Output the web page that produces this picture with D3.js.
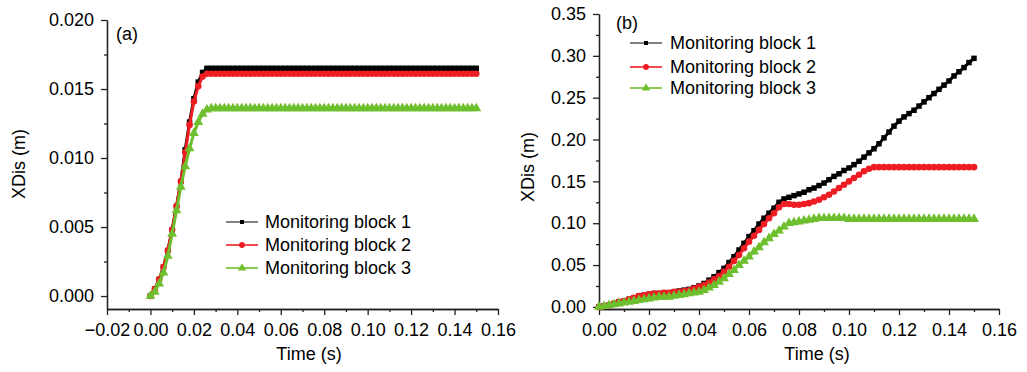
<!DOCTYPE html>
<html><head><meta charset="utf-8">
<script src="https://cdn.jsdelivr.net/npm/d3@7"></script>
<style>
body{margin:0;background:#fff}
svg{display:block}
text{font-family:"Liberation Sans",Arial,sans-serif;fill:#000}
</style>
</head><body>
<svg id="c" width="1027" height="372"></svg>
<script>
// ---------- DATA ----------
const seriesNames = ["Monitoring block 1","Monitoring block 2","Monitoring block 3"];
const seriesColors = ["#000000","#ee1d23","#6ebf2d"];

const timeS = [
0.000,0.002,0.004,0.006,0.008,0.010,0.012,0.014,0.016,0.018,
0.020,0.022,0.024,0.026,0.028,0.030,0.032,0.034,0.036,0.038,
0.040,0.042,0.044,0.046,0.048,0.050,0.052,0.054,0.056,0.058,
0.060,0.062,0.064,0.066,0.068,0.070,0.072,0.074,0.076,0.078,
0.080,0.082,0.084,0.086,0.088,0.090,0.092,0.094,0.096,0.098,
0.100,0.102,0.104,0.106,0.108,0.110,0.112,0.114,0.116,0.118,
0.120,0.122,0.124,0.126,0.128,0.130,0.132,0.134,0.136,0.138,
0.140,0.142,0.144,0.146,0.148,0.150];

// panel (a)
const a_block1 = [
0,0.0005,0.0012,0.0021,0.0033,0.0048,0.0065,0.0083,0.0106,0.0126,
0.0143,0.0155,0.0162,0.0165,0.0165,0.0165,0.0165,0.0165,0.0165,0.0165,
0.0165,0.0165,0.0165,0.0165,0.0165,0.0165,0.0165,0.0165,0.0165,0.0165,
0.0165,0.0165,0.0165,0.0165,0.0165,0.0165,0.0165,0.0165,0.0165,0.0165,
0.0165,0.0165,0.0165,0.0165,0.0165,0.0165,0.0165,0.0165,0.0165,0.0165,
0.0165,0.0165,0.0165,0.0165,0.0165,0.0165,0.0165,0.0165,0.0165,0.0165,
0.0165,0.0165,0.0165,0.0165,0.0165,0.0165,0.0165,0.0165,0.0165,0.0165,
0.0165,0.0165,0.0165,0.0165,0.0165,0.0165];
const a_block2 = [
0,0.0005,0.0012,0.0021,0.0033,0.0048,0.0065,0.0083,0.0104,0.0124,
0.0141,0.0152,0.0159,0.0161,0.0161,0.0161,0.0161,0.0161,0.0161,0.0161,
0.0161,0.0161,0.0161,0.0161,0.0161,0.0161,0.0161,0.0161,0.0161,0.0161,
0.0161,0.0161,0.0161,0.0161,0.0161,0.0161,0.0161,0.0161,0.0161,0.0161,
0.0161,0.0161,0.0161,0.0161,0.0161,0.0161,0.0161,0.0161,0.0161,0.0161,
0.0161,0.0161,0.0161,0.0161,0.0161,0.0161,0.0161,0.0161,0.0161,0.0161,
0.0161,0.0161,0.0161,0.0161,0.0161,0.0161,0.0161,0.0161,0.0161,0.0161,
0.0161,0.0161,0.0161,0.0161,0.0161,0.0161];
const a_block3 = [
0,0.0003,0.0009,0.0017,0.0029,0.0045,0.0062,0.0079,0.0094,0.0107,
0.0118,0.0126,0.0132,0.0135,0.0136,0.0136,0.0136,0.0136,0.0136,0.0136,
0.0136,0.0136,0.0136,0.0136,0.0136,0.0136,0.0136,0.0136,0.0136,0.0136,
0.0136,0.0136,0.0136,0.0136,0.0136,0.0136,0.0136,0.0136,0.0136,0.0136,
0.0136,0.0136,0.0136,0.0136,0.0136,0.0136,0.0136,0.0136,0.0136,0.0136,
0.0136,0.0136,0.0136,0.0136,0.0136,0.0136,0.0136,0.0136,0.0136,0.0136,
0.0136,0.0136,0.0136,0.0136,0.0136,0.0136,0.0136,0.0136,0.0136,0.0136,
0.0136,0.0136,0.0136,0.0136,0.0136,0.0136];

// panel (b)
const b_block1 = [
0.000,0.001,0.002,0.004,0.006,0.007,0.009,0.011,0.013,0.014,
0.015,0.016,0.016,0.017,0.017,0.018,0.019,0.020,0.021,0.023,
0.025,0.028,0.032,0.036,0.041,0.046,0.053,0.060,0.068,0.076,
0.084,0.091,0.099,0.106,0.112,0.118,0.125,0.129,0.131,0.133,
0.135,0.137,0.140,0.142,0.145,0.148,0.152,0.156,0.159,0.163,
0.166,0.170,0.174,0.179,0.184,0.189,0.195,0.202,0.209,0.216,
0.222,0.227,0.231,0.235,0.240,0.245,0.250,0.255,0.260,0.265,
0.270,0.276,0.281,0.286,0.292,0.297];
const b_block2 = [
0.000,0.001,0.002,0.004,0.006,0.007,0.009,0.011,0.013,0.014,
0.015,0.016,0.016,0.017,0.017,0.018,0.018,0.019,0.020,0.022,
0.024,0.026,0.029,0.033,0.037,0.042,0.048,0.055,0.062,0.070,
0.078,0.085,0.092,0.099,0.106,0.112,0.119,0.123,0.123,0.122,
0.122,0.123,0.124,0.126,0.128,0.131,0.134,0.138,0.142,0.146,
0.150,0.154,0.158,0.162,0.165,0.167,0.167,0.167,0.167,0.167,
0.167,0.167,0.167,0.167,0.167,0.167,0.167,0.167,0.167,0.167,
0.167,0.167,0.167,0.167,0.167,0.167];
const b_block3 = [
0.000,0.001,0.002,0.003,0.004,0.005,0.006,0.007,0.008,0.009,
0.010,0.011,0.012,0.012,0.012,0.013,0.014,0.015,0.016,0.017,
0.018,0.020,0.023,0.026,0.030,0.034,0.039,0.044,0.050,0.055,
0.060,0.066,0.071,0.077,0.082,0.087,0.091,0.096,0.100,0.101,
0.102,0.103,0.104,0.105,0.106,0.106,0.106,0.106,0.106,0.106,
0.105,0.105,0.105,0.105,0.105,0.105,0.105,0.105,0.105,0.105,
0.105,0.105,0.105,0.105,0.105,0.105,0.105,0.105,0.105,0.105,
0.105,0.105,0.105,0.105,0.105,0.105];

// ticks
const a_xTicks = [-0.02,0,0.02,0.04,0.06,0.08,0.10,0.12,0.14,0.16];
const a_xTickLabels = ["\u22120.02","0.00","0.02","0.04","0.06","0.08","0.10","0.12","0.14","0.16"];
const a_xMinor = [-0.01,0.01,0.03,0.05,0.07,0.09,0.11,0.13,0.15];
const a_yTicks = [0,0.005,0.010,0.015,0.020];
const a_yTickLabels = ["0.000","0.005","0.010","0.015","0.020"];
const a_yMinor = [0.0025,0.0075,0.0125,0.0175];

const b_xTicks = [0,0.02,0.04,0.06,0.08,0.10,0.12,0.14,0.16];
const b_xTickLabels = ["0.00","0.02","0.04","0.06","0.08","0.10","0.12","0.14","0.16"];
const b_xMinor = [0.01,0.03,0.05,0.07,0.09,0.11,0.13,0.15];
const b_yTicks = [0,0.05,0.10,0.15,0.20,0.25,0.30,0.35];
const b_yTickLabels = ["0.00","0.05","0.10","0.15","0.20","0.25","0.30","0.35"];
const b_yMinor = [0.025,0.075,0.125,0.175,0.225,0.275,0.325];

// ---------- DRAW ----------
const svg = d3.select('#c');
const symbols = [d3.symbolSquare, d3.symbolCircle, d3.symbolTriangle];
const symSizes = [30, 34, 42];
const legSizes = [16, 26, 30];

function panel(cfg){
  const x = d3.scaleLinear().domain(cfg.xDomain).range(cfg.xRange);
  const y = d3.scaleLinear().domain(cfg.yDomain).range(cfg.yRange);
  const g = svg.append('g');
  const y0 = cfg.yRange[0], x0 = cfg.xRange[0];

  // minor ticks
  g.append('g').attr('class','ax').attr('transform',`translate(0,${y0})`)
    .call(d3.axisBottom(x).tickValues(cfg.xMinor).tickSize(3).tickSizeOuter(0).tickFormat(''));
  g.append('g').attr('class','ax').attr('transform',`translate(${x0},0)`)
    .call(d3.axisLeft(y).tickValues(cfg.yMinor).tickSize(3).tickSizeOuter(0).tickFormat(''));
  // major ticks
  g.append('g').attr('class','ax').attr('transform',`translate(0,${y0})`)
    .call(d3.axisBottom(x).tickValues(cfg.xTicks).tickSize(6).tickSizeOuter(0).tickPadding(8)
      .tickFormat((d,i)=>cfg.xLabels[i]));
  g.append('g').attr('class','ax').attr('transform',`translate(${x0},0)`)
    .call(d3.axisLeft(y).tickValues(cfg.yTicks).tickSize(6).tickSizeOuter(0).tickPadding(7)
      .tickFormat((d,i)=>cfg.yLabels[i]));
  g.selectAll('.ax path, .ax line').attr('stroke','#222').attr('stroke-width',1.3);
  g.selectAll('.ax text').attr('font-size',18).attr('font-family','"Liberation Sans",Arial,sans-serif').attr('fill','#000');

  // series
  cfg.series.forEach((vals,k)=>{
    const pts = cfg.time.map((t,i)=>[t,vals[i]]);
    g.append('path').datum(pts)
      .attr('fill','none').attr('stroke',seriesColors[k]).attr('stroke-width',3)
      .attr('stroke-linejoin','round')
      .attr('d',d3.line().x(d=>x(d[0])).y(d=>y(d[1])));
    g.append('g').selectAll('path').data(pts).join('path')
      .attr('transform',d=>`translate(${x(d[0])},${y(d[1])})`)
      .attr('d',d3.symbol().type(symbols[k]).size(symSizes[k]))
      .attr('fill',seriesColors[k]);
  });

  // axis titles
  g.append('text').attr('x',cfg.xTitlePos[0]).attr('y',cfg.xTitlePos[1])
    .attr('text-anchor','middle').attr('font-size',18).text('Time (s)');
  g.append('text').attr('transform',`translate(${cfg.yTitlePos[0]},${cfg.yTitlePos[1]}) rotate(-90)`)
    .attr('text-anchor','middle').attr('dy','0.35em').attr('font-size',18).text('XDis (m)');
  g.append('text').attr('x',cfg.tagPos[0]).attr('y',cfg.tagPos[1]).attr('font-size',18).text(cfg.tag);

  // legend
  const lg = g.append('g');
  seriesNames.forEach((name,k)=>{
    const ly = cfg.legend.y[k];
    lg.append('line').attr('x1',cfg.legend.x1).attr('x2',cfg.legend.x2).attr('y1',ly).attr('y2',ly)
      .attr('stroke',seriesColors[k]).attr('stroke-width',k===0?1:1.6);
    lg.append('path').attr('transform',`translate(${(cfg.legend.x1+cfg.legend.x2)/2},${ly})`)
      .attr('d',d3.symbol().type(symbols[k]).size(legSizes[k])).attr('fill',seriesColors[k]);
    lg.append('text').attr('x',cfg.legend.tx).attr('y',ly).attr('dy','0.35em')
      .attr('font-size',18).text(name);
  });
}

panel({
  xDomain:[-0.02,0.16], xRange:[107,498],
  yDomain:[-0.00094,0.020], yRange:[309,20],
  xTicks:a_xTicks, xLabels:a_xTickLabels, xMinor:a_xMinor,
  yTicks:a_yTicks, yLabels:a_yTickLabels, yMinor:a_yMinor,
  time:timeS, series:[a_block1,a_block2,a_block3],
  xTitlePos:[309,360], yTitlePos:[19,164], tagPos:[116,40], tag:'(a)',
  legend:{x1:226,x2:258,tx:265,y:[222,245,268]}
});
panel({
  xDomain:[0,0.16], xRange:[599,999],
  yDomain:[-0.0025,0.35], yRange:[309,14],
  xTicks:b_xTicks, xLabels:b_xTickLabels, xMinor:b_xMinor,
  yTicks:b_yTicks, yLabels:b_yTickLabels, yMinor:b_yMinor,
  time:timeS, series:[b_block1,b_block2,b_block3],
  xTitlePos:[817,360], yTitlePos:[528,167], tagPos:[616,29], tag:'(b)',
  legend:{x1:630,x2:662,tx:670,y:[43,67,88]}
});
</script>
</body></html>
